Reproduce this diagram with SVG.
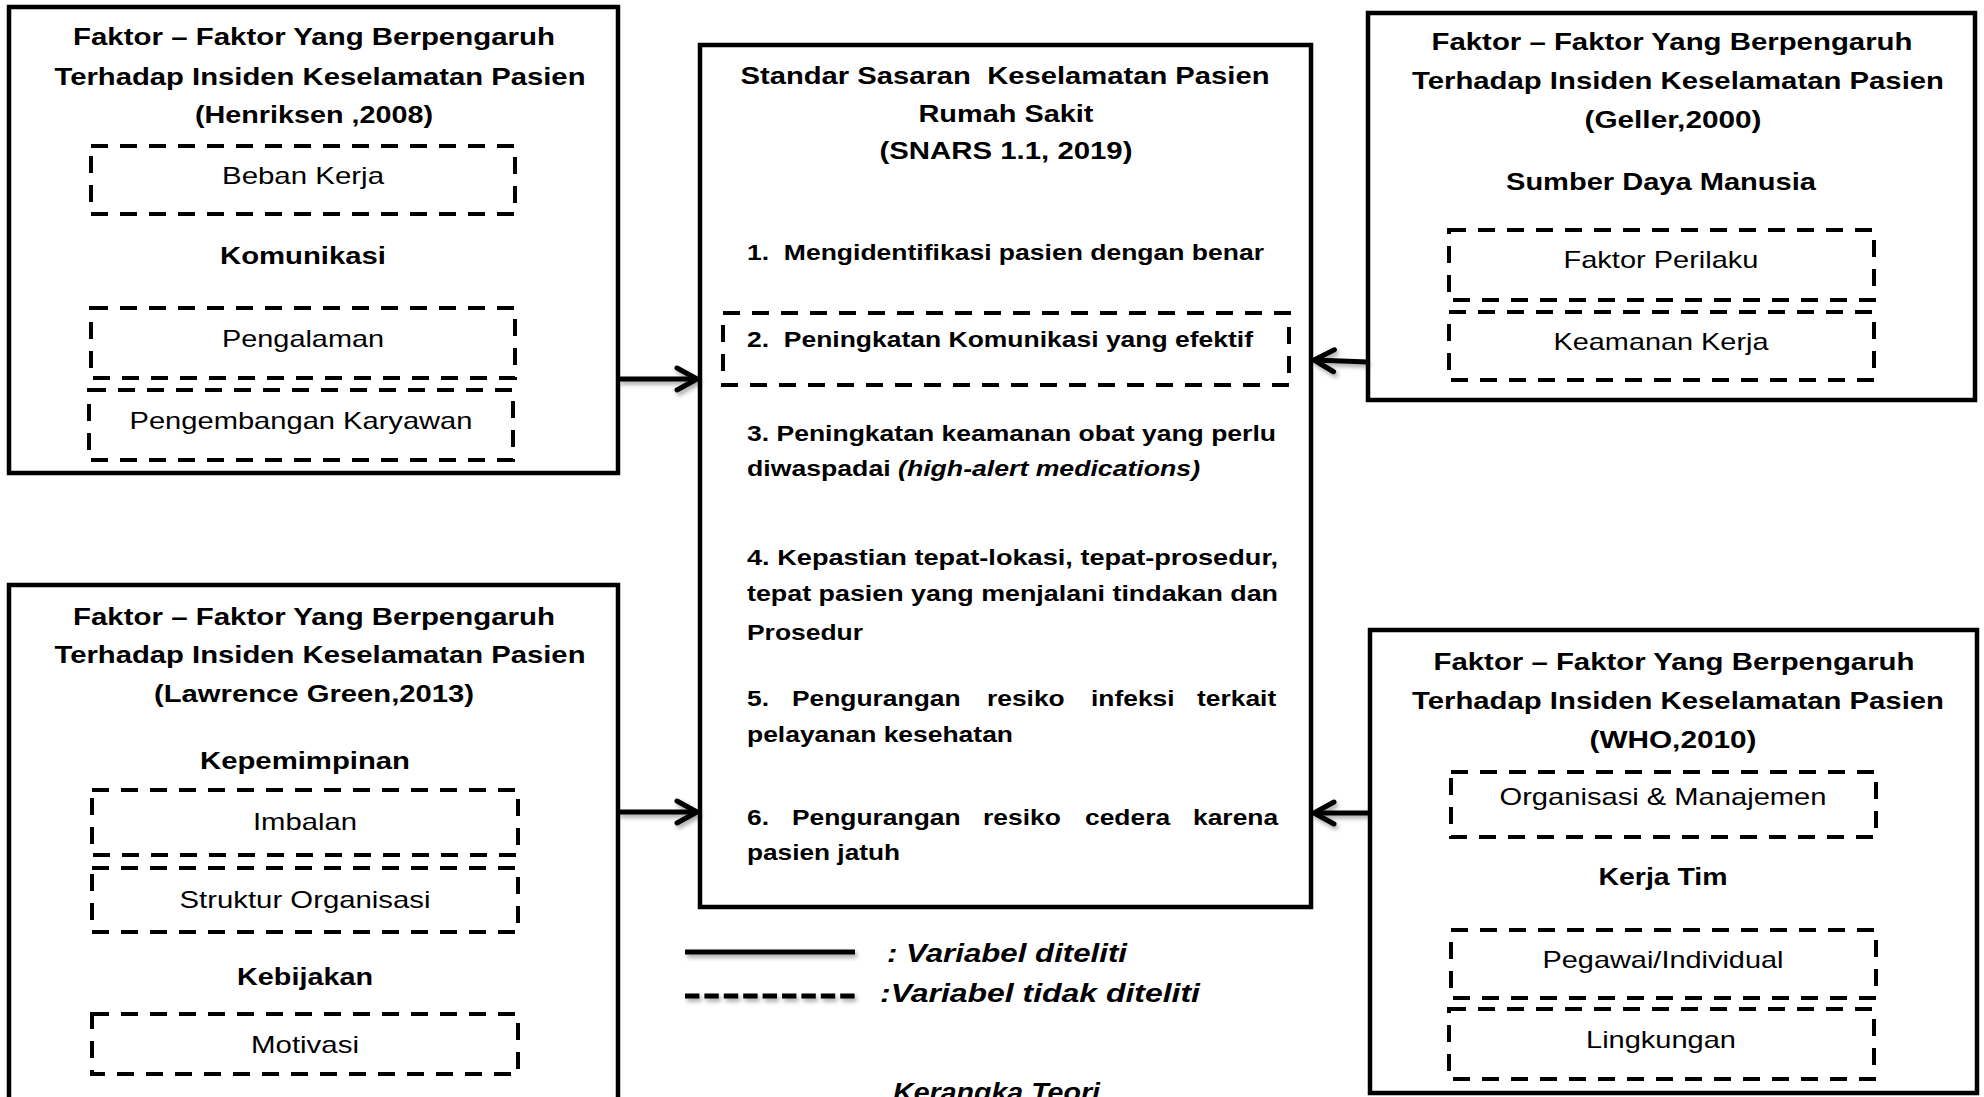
<svg xmlns="http://www.w3.org/2000/svg" width="1984" height="1097" viewBox="0 0 1984 1097">
<style>
.box{fill:#fff;stroke:#000;stroke-width:4.5}
.dbox{fill:none;stroke:#000;stroke-width:4;stroke-dasharray:17 12}
text{font-family:"Liberation Sans",Arial,sans-serif;fill:#000}
.h{font-size:24px;font-weight:bold;text-anchor:middle}
.n{font-size:24px;font-weight:normal;text-anchor:middle}
.i{font-size:22px;font-weight:bold;text-anchor:start}
.lg{font-size:25px;font-weight:bold;font-style:italic;text-anchor:start}
.con{fill:none;stroke:#000;stroke-width:5}
</style>
<defs>
<marker id="ah" markerUnits="userSpaceOnUse" viewBox="0 0 30 30" markerWidth="30" markerHeight="30" refX="26" refY="15" orient="auto">
<path d="M6,4 L26,15 L6,26" fill="none" stroke="#000" stroke-width="5" stroke-linecap="round" stroke-linejoin="round"/>
</marker>
<filter id="sh" filterUnits="userSpaceOnUse" x="0" y="0" width="1984" height="1097">
<feDropShadow dx="2" dy="3" stdDeviation="2" flood-color="#000" flood-opacity="0.35"/>
</filter>
</defs>
<rect x="0" y="0" width="1984" height="1097" fill="#fff"/>

<g id="henriksen">
<rect class="box" x="9" y="7" width="609" height="466"/>
<text class="h" x="314" y="45" textLength="482" lengthAdjust="spacingAndGlyphs">Faktor – Faktor Yang Berpengaruh</text>
<text class="h" x="320" y="85" textLength="531" lengthAdjust="spacingAndGlyphs">Terhadap Insiden Keselamatan Pasien</text>
<text class="h" x="314" y="123" textLength="238" lengthAdjust="spacingAndGlyphs">(Henriksen ,2008)</text>
<rect class="dbox" x="91" y="146" width="424" height="68"/>
<text class="n" x="303" y="184" textLength="162" lengthAdjust="spacingAndGlyphs">Beban Kerja</text>
<text class="h" x="303" y="264" textLength="166" lengthAdjust="spacingAndGlyphs">Komunikasi</text>
<rect class="dbox" x="91" y="308" width="424" height="70"/>
<text class="n" x="303" y="347" textLength="162" lengthAdjust="spacingAndGlyphs">Pengalaman</text>
<rect class="dbox" x="89" y="390" width="424" height="70"/>
<text class="n" x="301" y="429" textLength="343" lengthAdjust="spacingAndGlyphs">Pengembangan Karyawan</text>
</g>

<g id="lawrence">
<rect class="box" x="9" y="585" width="609" height="540"/>
<text class="h" x="314" y="625" textLength="482" lengthAdjust="spacingAndGlyphs">Faktor – Faktor Yang Berpengaruh</text>
<text class="h" x="320" y="663" textLength="531" lengthAdjust="spacingAndGlyphs">Terhadap Insiden Keselamatan Pasien</text>
<text class="h" x="314" y="702" textLength="320" lengthAdjust="spacingAndGlyphs">(Lawrence Green,2013)</text>
<text class="h" x="305" y="769" textLength="210" lengthAdjust="spacingAndGlyphs">Kepemimpinan</text>
<rect class="dbox" x="92" y="790" width="426" height="65"/>
<text class="n" x="305" y="830" textLength="104" lengthAdjust="spacingAndGlyphs">Imbalan</text>
<rect class="dbox" x="92" y="868" width="426" height="64"/>
<text class="n" x="305" y="908" textLength="251" lengthAdjust="spacingAndGlyphs">Struktur Organisasi</text>
<text class="h" x="305" y="985" textLength="136" lengthAdjust="spacingAndGlyphs">Kebijakan</text>
<rect class="dbox" x="92" y="1014" width="426" height="60"/>
<text class="n" x="305" y="1053" textLength="108" lengthAdjust="spacingAndGlyphs">Motivasi</text>
</g>

<g id="snars">
<rect class="box" x="700" y="45" width="611" height="862"/>
<text class="h" x="1005" y="84" textLength="529" lengthAdjust="spacingAndGlyphs">Standar Sasaran&#160; Keselamatan Pasien</text>
<text class="h" x="1006" y="122" textLength="175" lengthAdjust="spacingAndGlyphs">Rumah Sakit</text>
<text class="h" x="1006" y="159" textLength="253" lengthAdjust="spacingAndGlyphs">(SNARS 1.1, 2019)</text>
<text class="i" x="747" y="260" textLength="517" lengthAdjust="spacingAndGlyphs">1.&#160; Mengidentifikasi pasien dengan benar</text>
<rect class="dbox" x="723" y="313" width="566" height="72"/>
<text class="i" x="747" y="347" textLength="506" lengthAdjust="spacingAndGlyphs">2.&#160; Peningkatan Komunikasi yang efektif</text>
<text class="i" x="747" y="441" textLength="529" lengthAdjust="spacingAndGlyphs">3. Peningkatan keamanan obat yang perlu</text>
<text class="i" x="747" y="476" textLength="453" lengthAdjust="spacingAndGlyphs">diwaspadai <tspan font-style="italic">(high-alert medications)</tspan></text>
<text class="i" x="747" y="565" textLength="531" lengthAdjust="spacingAndGlyphs">4. Kepastian tepat-lokasi, tepat-prosedur,</text>
<text class="i" x="747" y="601" textLength="531" lengthAdjust="spacingAndGlyphs">tepat pasien yang menjalani tindakan dan</text>
<text class="i" x="747" y="640" textLength="116" lengthAdjust="spacingAndGlyphs">Prosedur</text>
<text class="i" transform="translate(747,706) scale(1.2,1)"><tspan x="0" y="0">5.</tspan><tspan x="37.5" y="0">Pengurangan</tspan><tspan x="200" y="0">resiko</tspan><tspan x="286.7" y="0">infeksi</tspan><tspan x="375" y="0">terkait</tspan></text>
<text class="i" x="747" y="742" textLength="266" lengthAdjust="spacingAndGlyphs">pelayanan kesehatan</text>
<text class="i" transform="translate(747,825) scale(1.2,1)"><tspan x="0" y="0">6.</tspan><tspan x="37.5" y="0">Pengurangan</tspan><tspan x="196.7" y="0">resiko</tspan><tspan x="281.7" y="0">cedera</tspan><tspan x="371.7" y="0">karena</tspan></text>
<text class="i" x="747" y="860" textLength="153" lengthAdjust="spacingAndGlyphs">pasien jatuh</text>
</g>

<g id="geller">
<rect class="box" x="1368" y="13" width="607" height="387"/>
<text class="h" x="1672" y="50" textLength="481" lengthAdjust="spacingAndGlyphs">Faktor – Faktor Yang Berpengaruh</text>
<text class="h" x="1678" y="89" textLength="532" lengthAdjust="spacingAndGlyphs">Terhadap Insiden Keselamatan Pasien</text>
<text class="h" x="1673" y="128" textLength="177" lengthAdjust="spacingAndGlyphs">(Geller,2000)</text>
<text class="h" x="1661" y="190" textLength="310" lengthAdjust="spacingAndGlyphs">Sumber Daya Manusia</text>
<rect class="dbox" x="1449" y="230" width="425" height="70"/>
<text class="n" x="1661" y="268" textLength="195" lengthAdjust="spacingAndGlyphs">Faktor Perilaku</text>
<rect class="dbox" x="1449" y="312" width="425" height="68"/>
<text class="n" x="1661" y="350" textLength="215" lengthAdjust="spacingAndGlyphs">Keamanan Kerja</text>
</g>

<g id="who">
<rect class="box" x="1370" y="630" width="607" height="463"/>
<text class="h" x="1674" y="670" textLength="481" lengthAdjust="spacingAndGlyphs">Faktor – Faktor Yang Berpengaruh</text>
<text class="h" x="1678" y="709" textLength="532" lengthAdjust="spacingAndGlyphs">Terhadap Insiden Keselamatan Pasien</text>
<text class="h" x="1673" y="748" textLength="167" lengthAdjust="spacingAndGlyphs">(WHO,2010)</text>
<rect class="dbox" x="1451" y="772" width="425" height="65"/>
<text class="n" x="1663" y="805" textLength="327" lengthAdjust="spacingAndGlyphs">Organisasi &amp; Manajemen</text>
<text class="h" x="1663" y="885" textLength="129" lengthAdjust="spacingAndGlyphs">Kerja Tim</text>
<rect class="dbox" x="1451" y="930" width="425" height="68"/>
<text class="n" x="1663" y="968" textLength="241" lengthAdjust="spacingAndGlyphs">Pegawai/Individual</text>
<rect class="dbox" x="1449" y="1009" width="425" height="70"/>
<text class="n" x="1661" y="1048" textLength="150" lengthAdjust="spacingAndGlyphs">Lingkungan</text>
</g>

<g id="connectors" filter="url(#sh)">
<path class="con" d="M618,379 H697" marker-end="url(#ah)"/>
<path class="con" d="M618,812 H697" marker-end="url(#ah)"/>
<path class="con" d="M1368,362 L1314,360" marker-end="url(#ah)"/>
<path class="con" d="M1368,813 H1314" marker-end="url(#ah)"/>
</g>

<g id="legend">
<g filter="url(#sh)">
<line x1="685" y1="952" x2="855" y2="952" stroke="#000" stroke-width="5"/>
<line x1="685" y1="996" x2="855" y2="996" stroke="#000" stroke-width="5" stroke-dasharray="14.4 5"/>
</g>
<text class="lg" x="887" y="962" textLength="240" lengthAdjust="spacingAndGlyphs">: Variabel diteliti</text>
<text class="lg" x="880" y="1002" textLength="320" lengthAdjust="spacingAndGlyphs">:Variabel tidak diteliti</text>
<text class="lg" x="893" y="1101" font-size="24" textLength="207" lengthAdjust="spacingAndGlyphs">Kerangka Teori</text>
</g>
</svg>
